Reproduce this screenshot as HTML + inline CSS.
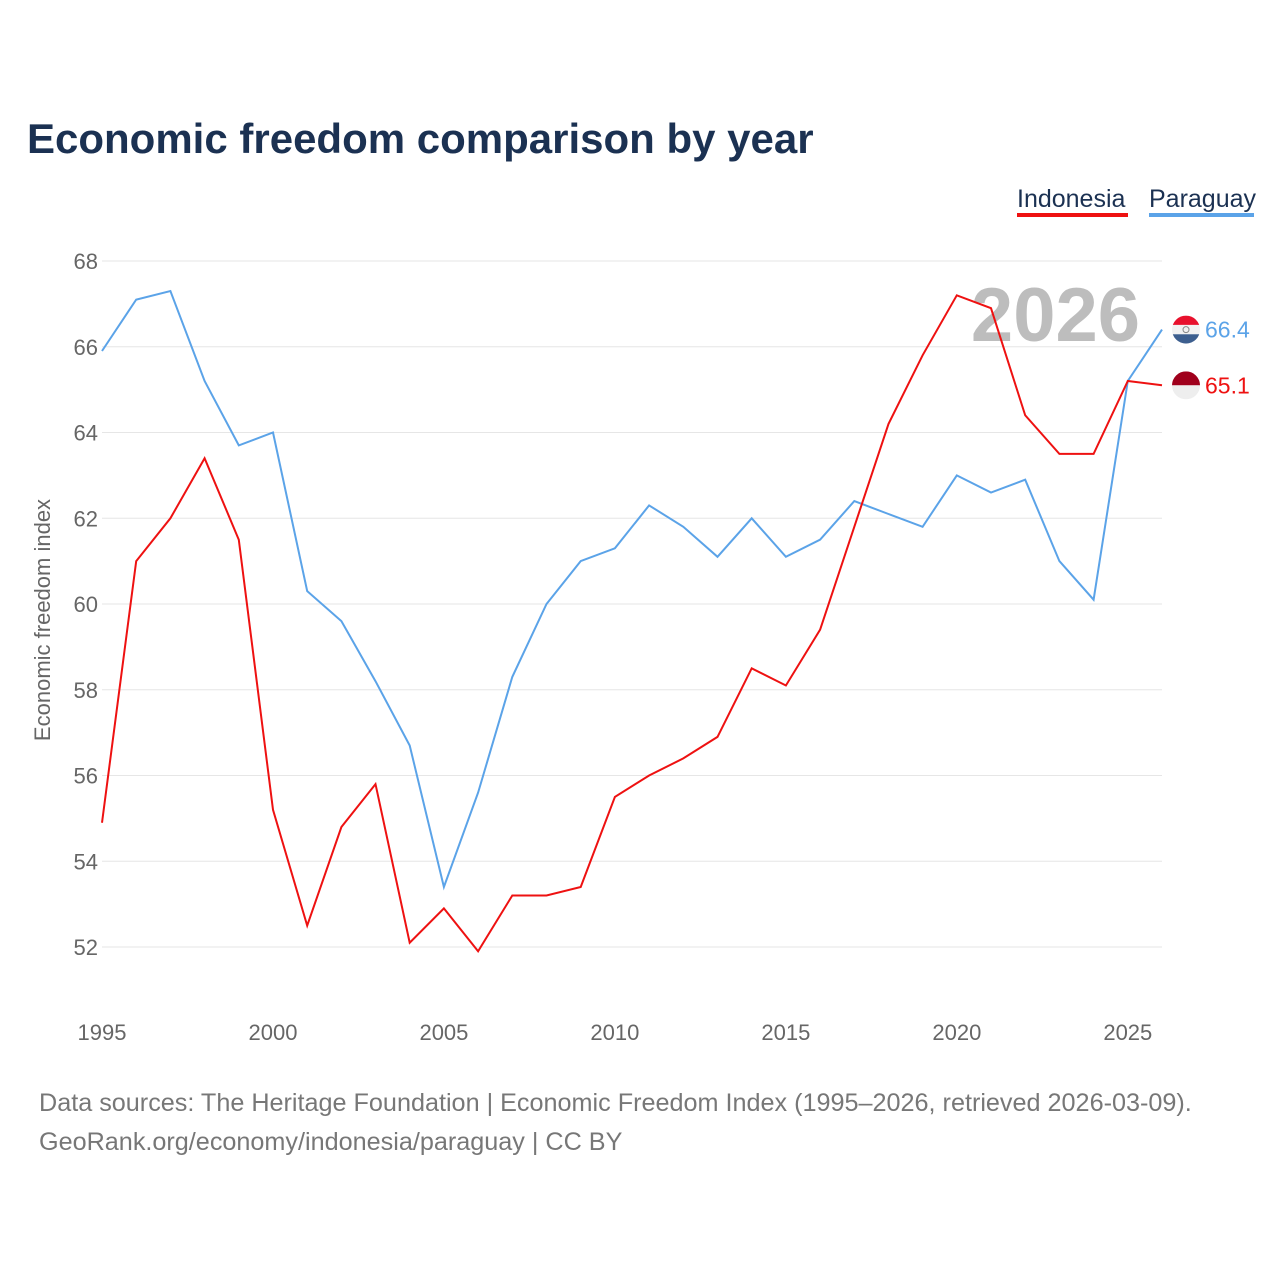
<!DOCTYPE html>
<html><head><meta charset="utf-8">
<style>
body{margin:0;background:#fff;font-family:"Liberation Sans",sans-serif;}
#wrap{position:relative;width:1280px;height:1280px;overflow:hidden;}
</style></head>
<body>
<div id="wrap">
<svg id="chart" width="1280" height="1280">
<defs>
<clipPath id="pyClip"><circle cx="0" cy="0" r="14"/></clipPath>
<clipPath id="idClip"><circle cx="0" cy="0" r="14"/></clipPath>
</defs>
</svg>
</div>
<script>
const years = [1995,1996,1997,1998,1999,2000,2001,2002,2003,2004,2005,2006,2007,2008,2009,2010,2011,2012,2013,2014,2015,2016,2017,2018,2019,2020,2021,2022,2023,2024,2025,2026];
const indonesia = [54.9,61.0,62.0,63.4,61.5,55.2,52.5,54.8,55.8,52.1,52.9,51.9,53.2,53.2,53.4,55.5,56.0,56.4,56.9,58.5,58.1,59.4,61.8,64.2,65.8,67.2,66.9,64.4,63.5,63.5,65.2,65.1];
const paraguay = [65.9,67.1,67.3,65.2,63.7,64.0,60.3,59.6,58.2,56.7,53.4,55.6,58.3,60.0,61.0,61.3,62.3,61.8,61.1,62.0,61.1,61.5,62.4,62.1,61.8,63.0,62.6,62.9,61.0,60.1,65.2,66.4];
const yTicks = [52,54,56,58,60,62,64,66,68];
const xTicks = [1995,2000,2005,2010,2015,2020,2025];

const NS="http://www.w3.org/2000/svg";
const svg=document.getElementById('chart');
const xS=v=>102+(v-1995)*(1162-102)/31;
const yS=v=>947-(v-52)*(947-261)/16;
function el(tag,attrs,text,parent){const e=document.createElementNS(NS,tag);for(const k in attrs)e.setAttribute(k,attrs[k]);if(text!==undefined&&text!==null)e.textContent=text;(parent||svg).appendChild(e);return e;}

let t=el('text',{x:27,y:153,'font-size':42,'font-weight':'bold',fill:'#1b3152'},'Economic freedom comparison by year');



let l1=el('text',{x:1017,y:207,'font-size':25,fill:'#1b3152'},'Indonesia');


let lr1=el('rect',{x:1017,y:213,width:111,height:4,fill:'#ee1111'});


let l2=el('text',{x:1149,y:207,'font-size':25,fill:'#1b3152'},'Paraguay');


let lr2=el('rect',{x:1149,y:213,width:105,height:4,fill:'#5ba3e8'});



yTicks.forEach(v=>{
  let g=el('line',{x1:102,x2:1162,y1:yS(v),y2:yS(v),stroke:'#e6e6e6','stroke-width':1});
  
  
  let lb=el('text',{x:98,y:yS(v)+8,'font-size':22,fill:'#666','text-anchor':'end'},v);
  
  
});
xTicks.forEach(v=>{
  let lb=el('text',{x:xS(v),y:1040,'font-size':22,fill:'#666','text-anchor':'middle'},v);
  
  
});
let yt=el('text',{x:0,y:0,'font-size':22,fill:'#666','text-anchor':'middle',transform:'translate(50,620) rotate(-90)'},'Economic freedom index');



let yr=el('text',{x:1140,y:341,'font-size':76,'font-weight':'bold',fill:'#bdbdbd','text-anchor':'end'},'2026');



function series(vals,color,name,bands){
  const d=vals.map((v,i)=>(i?'L':'M')+xS(years[i]).toFixed(1)+','+yS(v).toFixed(1)).join(' ');
  let p=el('path',{d:d,fill:'none',stroke:color,'stroke-width':2});
  
  
  const last=vals[vals.length-1];
  const ly=yS(last);
  let g=el('g',{transform:`translate(1186,${ly})`,'clip-path':`url(#${name==='paraguay'?'pyClip':'idClip'})`});
  
  
  const h=28/bands.length;
  bands.forEach((c,i)=>el('rect',{x:-14,y:-14+i*h,width:28,height:h,fill:c},null,g));
  if(name==='paraguay') el('circle',{cx:0,cy:0,r:3,fill:'none',stroke:'#888','stroke-width':1},null,g);
  let lv=el('text',{x:1205,y:ly+8,'font-size':23,fill:color},last.toFixed(1));
  
  
}
series(paraguay,'#5ba3e8','paraguay',['#e8112d','#f2f2f2','#3d5f8f']);
series(indonesia,'#ee1111','indonesia',['#a0001c','#eeeeee']);

let s1=el('text',{x:39,y:1111,'font-size':25.2,fill:'#777'},'Data sources: The Heritage Foundation | Economic Freedom Index (1995–2026, retrieved 2026-03-09).');


let s2=el('text',{x:39,y:1150,'font-size':25.2,fill:'#777'},'GeoRank.org/economy/indonesia/paraguay | CC BY');


</script>
</body></html>
